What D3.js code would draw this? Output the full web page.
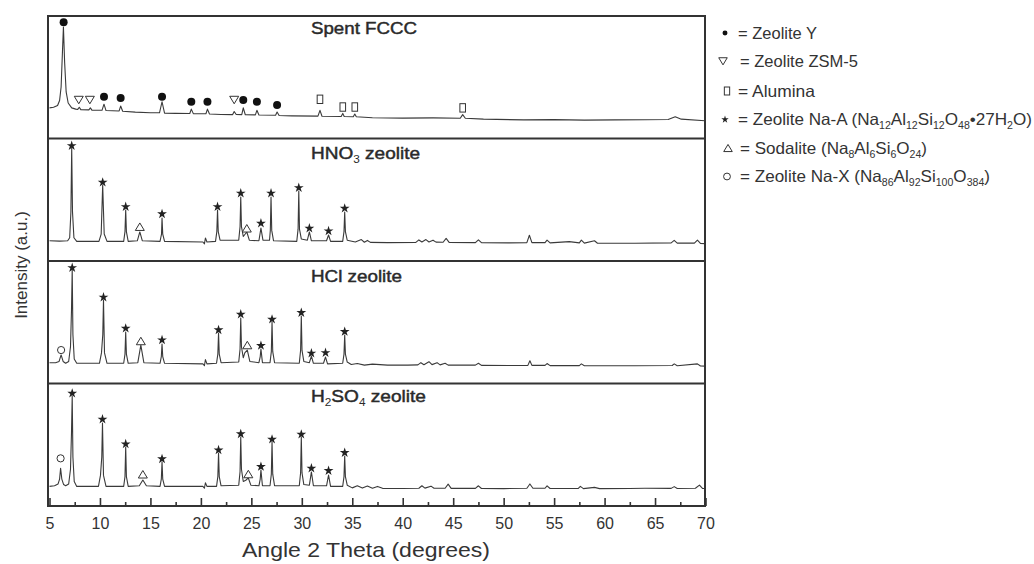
<!DOCTYPE html>
<html lang="en">
<head>
<meta charset="UTF-8">
<title>XRD patterns</title>
<script src="https://d3js.org/d3.v7.min.js"></script>
<style>
  body { margin: 0; background: #fff; }
  svg { font-family: "Liberation Sans", Arial, sans-serif; }
  .frame { fill: none; stroke: #333; stroke-width: 2px; }
  .pattern { fill: none; stroke: #3a3a3a; stroke-width: 1.1px; stroke-linejoin: round; }
  .tick-label { font-size: 16px; fill: #333; }
</style>
</head>
<body>
<svg width="1034" height="564"></svg>
<script>
// x axis
const xTickLabels = [5, 10, 15, 20, 25, 30, 35, 40, 45, 50, 55, 60, 65, 70];
const xMinorTicks = [7.5, 12.5, 17.5, 22.5, 27.5, 32.5, 37.5, 42.5, 47.5, 52.5, 57.5, 62.5, 67.5];

// panel titles, [text, isSubscript]
const panelTitles = [
  [["Spent FCCC", 0]],
  [["HNO", 0], ["3", 1], [" zeolite", 0]],
  [["HCl zeolite", 0]],
  [["H", 0], ["2", 1], ["SO", 0], ["4", 1], [" zeolite", 0]]
];

// patterns: [angle 2theta, intensity a.u. 0-100 inside its panel]
const fcccPattern = [
  [5.0, 25], [5.4, 25.5], [5.8, 27], [6.0, 31], [6.15, 42], [6.28, 70], [6.38, 91], [6.5, 62], [6.65, 38],
  [6.85, 29], [7.2, 25], [7.6, 24], [7.8, 23.8], [7.95, 25.5], [8.1, 23.6], [8.9, 23.4], [9.05, 25],
  [9.2, 23.2], [10.2, 23], [10.4, 28], [10.6, 22.8], [11.9, 22.5], [12.05, 26.5], [12.25, 22.2],
  [13.5, 21.5], [15.0, 21], [15.9, 21], [16.15, 30], [16.4, 20.7], [17.5, 20.5], [18.9, 20.4],
  [19.05, 24], [19.25, 20.3], [20.5, 20.2], [20.65, 24], [20.85, 20], [22.0, 19.6], [23.15, 19.5],
  [23.3, 22], [23.5, 19.6], [24.05, 19.5], [24.2, 25], [24.4, 19.4], [25.4, 19.3], [25.55, 23],
  [25.75, 19.2], [27.4, 19], [27.55, 21.6], [27.75, 18.8], [29.0, 18.5], [31.6, 18.3], [31.8, 23],
  [32.0, 18.2], [33.9, 18], [34.06, 20.5], [34.2, 17.9], [35.1, 17.8], [35.25, 20], [35.4, 17.7],
  [37, 17], [40, 16.6], [43, 16.8], [45.7, 16.5], [45.94, 19.5], [46.2, 16.5], [48, 15.8], [52, 15.2],
  [55, 15.4], [58, 15], [61, 15.2], [64, 15.3], [66.3, 15.5], [67.0, 17.8], [67.6, 15.8], [70, 14.5]
];
const hno3Pattern = [
  [5.0, 16.5], [6.0, 16.2], [6.8, 16.5], [7.0, 19], [7.12, 40], [7.2, 92], [7.28, 40], [7.42, 19],
  [7.7, 16], [9.9, 16], [10.12, 22], [10.27, 62], [10.42, 22], [10.7, 16], [12.35, 16], [12.48, 24],
  [12.55, 41.6], [12.62, 24], [12.8, 16], [13.7, 16.5], [13.95, 23.7], [14.2, 16.5], [15.95, 16],
  [16.1, 22], [16.15, 35], [16.22, 22], [16.4, 16], [20.2, 15.5], [20.35, 14], [20.45, 18.8],
  [20.6, 15.5], [21.45, 16], [21.58, 24], [21.65, 41.6], [21.72, 24], [21.9, 17], [23.75, 17],
  [23.88, 28], [23.95, 52.2], [24.02, 28], [24.2, 20], [24.55, 23.7], [24.8, 17], [25.75, 16.5],
  [25.95, 26.9], [26.15, 17], [26.8, 17], [26.88, 25], [26.95, 52.2], [27.02, 25], [27.2, 16.5],
  [29.5, 16], [29.63, 26], [29.7, 57.1], [29.77, 26], [29.95, 18], [30.55, 17], [30.75, 23.7],
  [30.95, 16.5], [32.45, 16.5], [32.65, 21.2], [32.85, 16], [34.05, 16], [34.18, 24], [34.25, 40],
  [34.32, 24], [34.5, 17], [35.3, 15.5], [35.9, 17.5], [36.2, 15.3], [36.5, 16.8], [36.8, 15.2],
  [38.5, 15], [41.3, 15.2], [41.6, 17.2], [41.9, 15.5], [42.3, 17.5], [42.6, 15.5], [43.0, 17],
  [43.3, 15.4], [44.0, 15.3], [44.3, 18.5], [44.6, 15.2], [47.2, 15], [47.5, 17.3], [47.8, 15],
  [50.5, 14.8], [52.3, 15], [52.55, 21], [52.8, 15], [54.1, 15], [54.3, 17], [54.6, 14.8],
  [56.5, 15.8], [57.5, 14.8], [57.7, 17], [58.0, 14.6], [59.0, 16.5], [59.3, 14.5], [63, 14.5],
  [66.6, 14.8], [66.9, 16.8], [67.2, 14.6], [68.9, 14.6], [69.2, 17], [69.5, 14.4], [70, 14.2]
];
const hclPattern = [
  [5.0, 17], [5.6, 17], [5.95, 18], [6.15, 23.3], [6.35, 18], [6.6, 16.5], [6.9, 18], [7.08, 30],
  [7.18, 60], [7.25, 92.7], [7.32, 40], [7.45, 20], [7.7, 16.5], [9.95, 16.5], [10.15, 25],
  [10.28, 40], [10.35, 68.2], [10.45, 25], [10.7, 16.5], [12.35, 16.5], [12.48, 24], [12.55, 42],
  [12.62, 24], [12.8, 16.5], [13.75, 17], [14.05, 31.4], [14.35, 17], [15.95, 16.5], [16.08, 22],
  [16.15, 32.2], [16.22, 22], [16.4, 16.5], [20.2, 16], [20.35, 14.5], [20.45, 19.5], [20.6, 16],
  [21.55, 16.5], [21.68, 24], [21.75, 41.2], [21.82, 24], [22.0, 17], [23.75, 17.5], [23.88, 28],
  [23.95, 53.5], [24.02, 30], [24.2, 21], [24.35, 25], [24.6, 27.3], [24.85, 18], [25.75, 17],
  [25.88, 22], [25.95, 28.2], [26.1, 17], [26.85, 17], [26.98, 26], [27.05, 50.2], [27.12, 26],
  [27.3, 17], [29.75, 16.5], [29.88, 27], [29.95, 55.1], [30.02, 27], [30.2, 18], [30.75, 17],
  [30.95, 22.4], [31.15, 16.5], [32.15, 16.5], [32.35, 21.6], [32.55, 16], [34.05, 16.5],
  [34.18, 24], [34.25, 39.6], [34.32, 24], [34.5, 17.5], [34.9, 15.5], [35.5, 16.3], [36.2, 15],
  [37.0, 15.8], [38.5, 15], [40.5, 15], [41.5, 15.2], [41.8, 17], [42.1, 15.3], [42.6, 17.8],
  [42.9, 15.4], [43.4, 17], [43.7, 15.2], [44.2, 16.5], [44.5, 15], [47.2, 15], [47.5, 16.5],
  [47.8, 14.8], [50.5, 14.7], [52.4, 14.8], [52.6, 18.5], [52.8, 14.8], [54.1, 14.8], [54.3, 16.3],
  [54.6, 14.6], [57.5, 14.6], [57.7, 16], [58, 14.5], [60, 14.5], [63, 14.5], [66.7, 14.7],
  [66.9, 16], [67.2, 14.5], [69.2, 16], [69.5, 14.3], [70, 14.2]
];
const h2so4Pattern = [
  [5.0, 16], [5.5, 16.5], [5.85, 18], [6.0, 22], [6.1, 30.8], [6.22, 22], [6.4, 17.5], [6.6, 16.5],
  [6.9, 18], [7.08, 30], [7.18, 60], [7.25, 89.8], [7.32, 40], [7.45, 20], [7.7, 16], [9.85, 16],
  [10.05, 25], [10.18, 40], [10.25, 67.8], [10.35, 25], [10.6, 16], [12.35, 16], [12.48, 24],
  [12.55, 48.2], [12.62, 24], [12.8, 16], [13.9, 16.5], [14.25, 21.2], [14.6, 16.5], [15.95, 16],
  [16.08, 22], [16.15, 35.9], [16.22, 22], [16.4, 16], [20.2, 16], [20.35, 14.5], [20.45, 19],
  [20.6, 16], [21.55, 16], [21.68, 24], [21.75, 43.3], [21.82, 24], [22.0, 16.5], [23.75, 17],
  [23.88, 28], [23.95, 56.3], [24.02, 30], [24.2, 20], [24.45, 21], [24.7, 22.9], [24.95, 17],
  [25.75, 16.5], [25.88, 22], [25.95, 29.4], [26.1, 16.5], [26.85, 16.5], [26.98, 26], [27.05, 52.2],
  [27.12, 26], [27.3, 16.5], [29.75, 16.5], [29.88, 27], [29.95, 56.3], [30.02, 27], [30.2, 17.5],
  [30.75, 17], [30.95, 27.8], [31.15, 16.5], [32.45, 16.5], [32.65, 25.3], [32.85, 16], [34.05, 16],
  [34.18, 24], [34.25, 40.8], [34.32, 24], [34.5, 17], [35.0, 14.8], [35.5, 16.5], [36.0, 14.6],
  [36.5, 16.3], [37.0, 14.5], [37.5, 16], [38.0, 14.4], [40.0, 14.3], [41.6, 14.5], [41.9, 16.5],
  [42.2, 14.6], [42.8, 16.2], [43.1, 14.5], [44.2, 14.5], [44.5, 17.8], [44.8, 14.4], [47.2, 14.4],
  [47.5, 16.5], [47.8, 14.3], [50, 14.2], [52.3, 14.5], [52.6, 18], [52.9, 14.5], [54.1, 14.5],
  [54.3, 16.5], [54.6, 14.3], [57.4, 14.3], [57.6, 16], [57.9, 14.2], [59, 15.2], [59.5, 14.2],
  [62.5, 14.3], [64, 14.5], [66.6, 14.4], [66.9, 15.8], [67.2, 14.3], [69.0, 14.5], [69.4, 17],
  [69.7, 14.3], [70, 14.3]
];

// phase markers: [angle, intensity]
const fcccZeoliteY = [[6.4, 95], [10.4, 34], [12.05, 33], [16.15, 34], [19.05, 30], [20.65, 30], [24.2, 31.4], [25.55, 30], [27.55, 27.3]];
const fcccZsm5 = [[7.9, 31.4], [9.0, 31.4], [23.3, 31.4]];
const fcccAlumina = [[31.8, 32], [34.06, 25.7], [35.25, 25.7], [45.94, 25]];
const hno3NaA = [[7.2, 94.1], [10.27, 64.2], [12.55, 44.3], [16.15, 38.4], [21.65, 44.3], [23.95, 55.3], [25.95, 30.8], [26.95, 55.3], [29.7, 59.8], [30.75, 26.7], [32.65, 24.5], [34.25, 43]];
const hno3Sodalite = [[13.95, 28], [24.55, 26.7]];
const hclNaA = [[7.25, 94.5], [10.35, 70.4], [12.55, 45], [16.15, 35.5], [21.75, 43.7], [23.95, 56.5], [25.95, 30.9], [27.05, 52.4], [29.95, 57.8], [30.95, 24.7], [32.35, 25.1], [34.25, 42.3]];
const hclSodalite = [[14.05, 34.7], [24.6, 31.4]];
const hclNaX = [[6.15, 27.3]];
const h2so4NaA = [[7.25, 92], [10.25, 70.8], [12.55, 50.6], [16.15, 38.4], [21.75, 45.7], [23.95, 58.8], [25.95, 32.1], [27.05, 54.4], [29.95, 58.5], [30.95, 30.8], [32.65, 28.8], [34.25, 43.5]];
const h2so4Sodalite = [[14.25, 25.9], [24.7, 26.1]];
const h2so4NaX = [[6.1, 38.9]];

// legend
const legendKinds = ["zeoliteY", "zsm5", "alumina", "naA", "sodalite", "naX"];
const legendLabels = [
  [["= Zeolite Y", 0]],
  [["= Zeolite ZSM-5", 0]],
  [["= Alumina", 0]],
  [["= Zeolite Na-A (Na", 0], ["12", 1], ["Al", 0], ["12", 1], ["Si", 0], ["12", 1], ["O", 0], ["48", 1], ["\u202227H", 0], ["2", 1], ["O)", 0]],
  [["= Sodalite (Na", 0], ["8", 1], ["Al", 0], ["6", 1], ["Si", 0], ["6", 1], ["O", 0], ["24", 1], [")", 0]],
  [["= Zeolite Na-X (Na", 0], ["86", 1], ["Al", 0], ["92", 1], ["Si", 0], ["100", 1], ["O", 0], ["384", 1], [")", 0]]
];

const panels = [
  { pattern: fcccPattern, markers: [["zeoliteY", fcccZeoliteY], ["zsm5", fcccZsm5], ["alumina", fcccAlumina]] },
  { pattern: hno3Pattern, markers: [["naA", hno3NaA], ["sodalite", hno3Sodalite]] },
  { pattern: hclPattern, markers: [["naA", hclNaA], ["sodalite", hclSodalite], ["naX", hclNaX]] },
  { pattern: h2so4Pattern, markers: [["naA", h2so4NaA], ["sodalite", h2so4Sodalite], ["naX", h2so4NaX]] }
];

const svg = d3.select("svg");
const plotLeft = 48, plotRight = 705, plotTop = 16, plotBottom = 506;
const panelH = (plotBottom - plotTop) / panels.length;

const x = d3.scaleLinear().domain([5, 70]).range([49.5, 705.5]);

// writes text with subscript pieces
function richText(sel, segs, size) {
  let shifted = false;
  segs.forEach(([t, sub]) => {
    const ts = sel.append("tspan").text(t);
    if (sub) {
      ts.attr("font-size", size * 0.62).attr("stroke-width", 0);
      if (!shifted) ts.attr("dy", size * 0.25);
      shifted = true;
    } else if (shifted) {
      ts.attr("dy", -size * 0.25);
      shifted = false;
    }
  });
}

function drawMarker(g, kind, px, py, scale) {
  const s = scale || 1;
  if (kind === "zeoliteY") {
    g.append("circle").attr("cx", px).attr("cy", py).attr("r", 4 * s).attr("fill", "#111");
  } else if (kind === "naX") {
    g.append("circle").attr("cx", px).attr("cy", py).attr("r", 3.6 * s)
      .attr("fill", "#fff").attr("stroke", "#333").attr("stroke-width", 1);
  } else if (kind === "naA") {
    g.append("path").attr("transform", `translate(${px},${py})`)
      .attr("d", d3.symbol(d3.symbolStar, 30 * s * s)()).attr("fill", "#222");
  } else if (kind === "zsm5") {
    const w = 4.5 * s, h = 7.5 * s;
    g.append("path").attr("d", `M${px - w},${py - h / 2}L${px + w},${py - h / 2}L${px},${py + h / 2}Z`)
      .attr("fill", "#fff").attr("stroke", "#333").attr("stroke-width", 1);
  } else if (kind === "sodalite") {
    const w = 4.5 * s, h = 7.5 * s;
    g.append("path").attr("d", `M${px - w},${py + h / 2}L${px + w},${py + h / 2}L${px},${py - h / 2}Z`)
      .attr("fill", "#fff").attr("stroke", "#333").attr("stroke-width", 1);
  } else if (kind === "alumina") {
    g.append("rect").attr("x", px - 2.8 * s).attr("y", py - 4.2 * s)
      .attr("width", 5.6 * s).attr("height", 8.4 * s)
      .attr("fill", "#fff").attr("stroke", "#333").attr("stroke-width", 1);
  }
}

svg.append("defs").append("clipPath").attr("id", "plotClip")
  .append("rect").attr("x", plotLeft).attr("y", plotTop)
  .attr("width", plotRight - plotLeft).attr("height", plotBottom - plotTop);

panels.forEach((p, i) => {
  const y0 = plotTop + i * panelH;
  const y = d3.scaleLinear().domain([0, 100]).range([y0 + panelH, y0]);
  const g = svg.append("g").attr("clip-path", "url(#plotClip)");
  const line = d3.line().x(d => x(d[0])).y(d => y(d[1]));
  g.append("path").datum(p.pattern).attr("class", "pattern").attr("d", line);
  p.markers.forEach(([kind, pts]) => {
    pts.forEach(d => drawMarker(g, kind, x(d[0]), y(d[1])));
  });
  const t = svg.append("text")
    .attr("x", 311).attr("y", y0 + [18, 20, 21, 18.5][i])
    .attr("font-size", 16.5).attr("fill", "#2a2a2a")
    .attr("stroke", "#2a2a2a").attr("stroke-width", 0.45)
    .attr("textLength", [106, 109, 91, 115][i]).attr("lengthAdjust", "spacingAndGlyphs");
  richText(t, panelTitles[i], 16.5);
});

// frame and panel separators
svg.append("rect").attr("class", "frame")
  .attr("x", plotLeft).attr("y", plotTop)
  .attr("width", plotRight - plotLeft).attr("height", plotBottom - plotTop);
svg.append("g").selectAll("line").data(d3.range(1, panels.length)).join("line")
  .attr("class", "frame")
  .attr("x1", plotLeft).attr("x2", plotRight)
  .attr("y1", i => plotTop + i * panelH).attr("y2", i => plotTop + i * panelH);

// x axis with inward ticks
const axisG = svg.append("g").attr("transform", `translate(0,${plotBottom})`)
  .call(d3.axisBottom(x).tickValues(xTickLabels).tickSize(-8).tickPadding(12).tickFormat(d3.format("d")));
axisG.select(".domain").remove();
axisG.selectAll(".tick line").attr("stroke", "#333").attr("stroke-width", 1.6);
axisG.attr("font-family", null).attr("font-size", null);
axisG.selectAll(".tick text").attr("class", "tick-label");

const minorG = svg.append("g").attr("transform", `translate(0,${plotBottom})`)
  .call(d3.axisBottom(x).tickValues(xMinorTicks).tickSize(-4).tickFormat(""));
minorG.select(".domain").remove();
minorG.selectAll(".tick line").attr("stroke", "#333").attr("stroke-width", 1.6);

// axis titles
svg.append("text").attr("x", 242).attr("y", 557)
  .attr("font-size", 21).attr("fill", "#333")
  .attr("textLength", 248).attr("lengthAdjust", "spacingAndGlyphs")
  .text("Angle 2 Theta (degrees)");
svg.append("text").attr("transform", "translate(27,265) rotate(-90)")
  .attr("text-anchor", "middle").attr("font-size", 17).attr("fill", "#333")
  .text("Intensity (a.u.)");

// legend
const legendBase = [38.5, 66.8, 96.5, 125, 153.5, 182];
const legendSymX = [725, 723, 727, 725, 728, 727];
const legendTextX = [738, 740, 738, 738, 740, 740];
const legendTextLen = [79, 118, 77, 294, 187, 250];
legendKinds.forEach((kind, i) => {
  const lg = svg.append("g");
  drawMarker(lg, kind, legendSymX[i], legendBase[i] - 5.5, kind === "zeoliteY" ? 0.62 : kind === "naA" ? 0.75 : 0.95);
  const t = svg.append("text").attr("x", legendTextX[i]).attr("y", legendBase[i])
    .attr("font-size", 16.5).attr("fill", "#333")
    .attr("textLength", legendTextLen[i]).attr("lengthAdjust", "spacingAndGlyphs");
  richText(t, legendLabels[i], 16.5);
});
</script>
</body>
</html>
